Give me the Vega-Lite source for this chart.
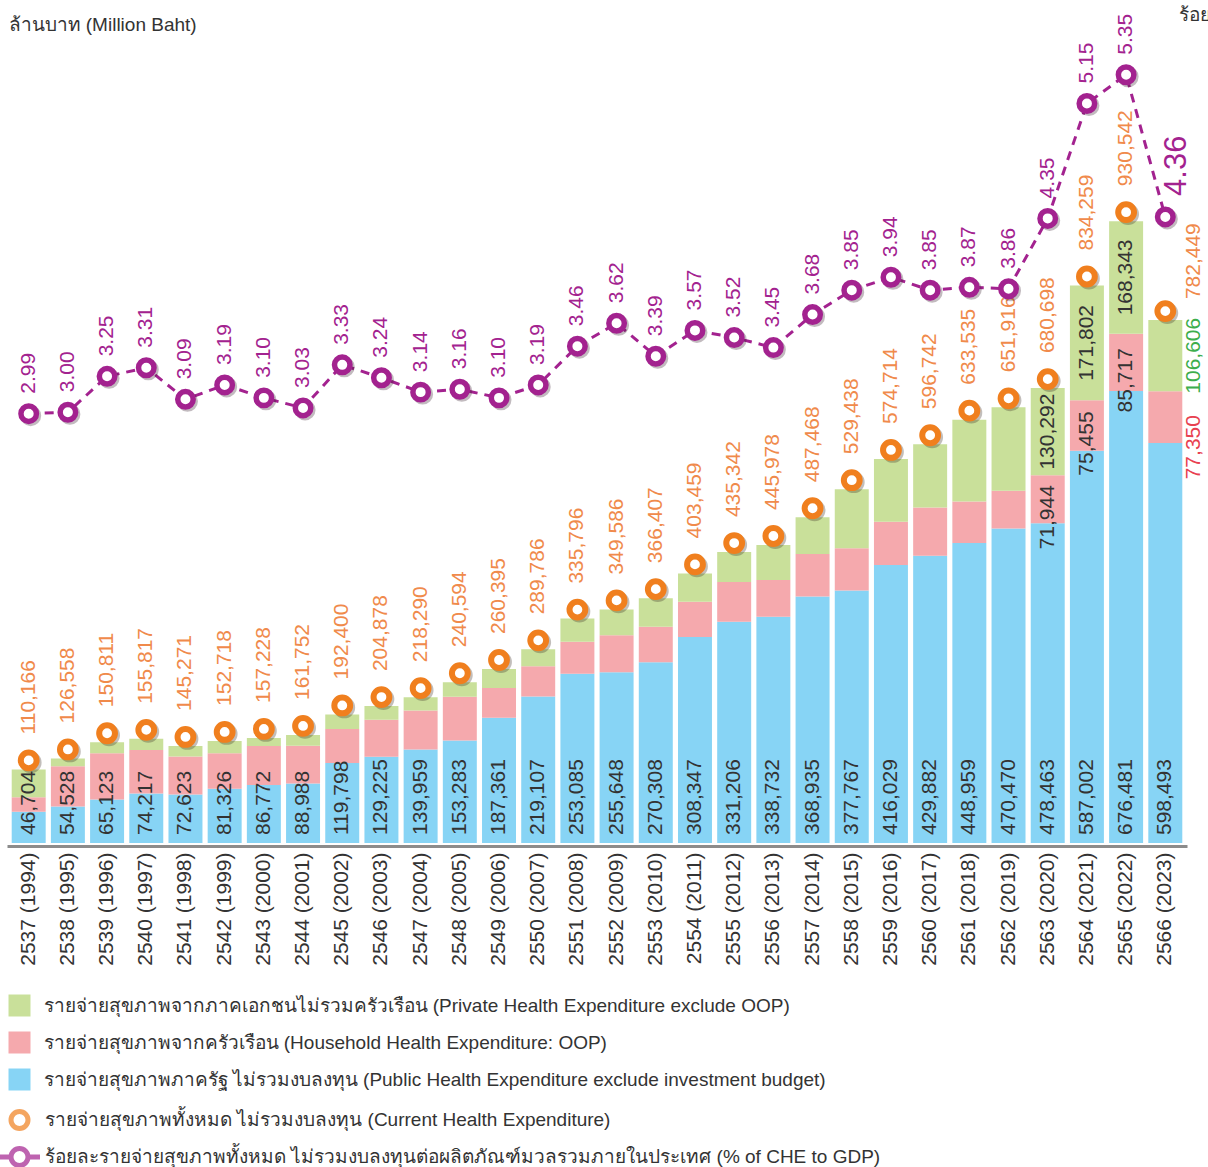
{
  "$schema": "https://vega.github.io/schema/vega-lite/v6.json",
  "autosize": {"type": "none"},
  "width": 1180,
  "height": 840,
  "padding": {"left": 7, "top": 3, "right": 21, "bottom": 324},
  "config": {
    "view": {"stroke": null},
    "font": "Liberation Sans",
    "text": {"font": "Liberation Sans"},
    "axis": {"labelFont": "Liberation Sans", "titleFont": "Liberation Sans"},
    "legend": {"labelFont": "Liberation Sans"}
  },
  "datasets": {
    "nha": [
      {"label": "2537 (1994)", "year": 1994, "a_public": 46704, "b_household": 21900, "c_private": 41562, "total": 110166, "pct": 2.99},
      {"label": "2538 (1995)", "year": 1995, "a_public": 54528, "b_household": 60400, "c_private": 11630, "total": 126558, "pct": 3.00},
      {"label": "2539 (1996)", "year": 1996, "a_public": 65123, "b_household": 69350, "c_private": 16338, "total": 150811, "pct": 3.25},
      {"label": "2540 (1997)", "year": 1997, "a_public": 74217, "b_household": 64885, "c_private": 16715, "total": 155817, "pct": 3.31},
      {"label": "2541 (1998)", "year": 1998, "a_public": 72623, "b_household": 56686, "c_private": 15962, "total": 145271, "pct": 3.09},
      {"label": "2542 (1999)", "year": 1999, "a_public": 81326, "b_household": 53115, "c_private": 18277, "total": 152718, "pct": 3.19},
      {"label": "2543 (2000)", "year": 2000, "a_public": 86772, "b_household": 58400, "c_private": 12056, "total": 157228, "pct": 3.10},
      {"label": "2544 (2001)", "year": 2001, "a_public": 88988, "b_household": 56544, "c_private": 16220, "total": 161752, "pct": 3.03},
      {"label": "2545 (2002)", "year": 2002, "a_public": 119798, "b_household": 50687, "c_private": 21915, "total": 192400, "pct": 3.33},
      {"label": "2546 (2003)", "year": 2003, "a_public": 129225, "b_household": 55285, "c_private": 20368, "total": 204878, "pct": 3.24},
      {"label": "2547 (2004)", "year": 2004, "a_public": 139959, "b_household": 58500, "c_private": 19831, "total": 218290, "pct": 3.14},
      {"label": "2548 (2005)", "year": 2005, "a_public": 153283, "b_household": 65518, "c_private": 21793, "total": 240594, "pct": 3.16},
      {"label": "2549 (2006)", "year": 2006, "a_public": 187361, "b_household": 44560, "c_private": 28474, "total": 260395, "pct": 3.10},
      {"label": "2550 (2007)", "year": 2007, "a_public": 219107, "b_household": 45380, "c_private": 25299, "total": 289786, "pct": 3.19},
      {"label": "2551 (2008)", "year": 2008, "a_public": 253085, "b_household": 47942, "c_private": 34769, "total": 335796, "pct": 3.46},
      {"label": "2552 (2009)", "year": 2009, "a_public": 255648, "b_household": 55354, "c_private": 38584, "total": 349586, "pct": 3.62},
      {"label": "2553 (2010)", "year": 2010, "a_public": 270308, "b_household": 53184, "c_private": 42915, "total": 366407, "pct": 3.39},
      {"label": "2554 (2011)", "year": 2011, "a_public": 308347, "b_household": 52638, "c_private": 42474, "total": 403459, "pct": 3.57},
      {"label": "2555 (2012)", "year": 2012, "a_public": 331206, "b_household": 59360, "c_private": 44776, "total": 435342, "pct": 3.52},
      {"label": "2556 (2013)", "year": 2013, "a_public": 338732, "b_household": 54666, "c_private": 52580, "total": 445978, "pct": 3.45},
      {"label": "2557 (2014)", "year": 2014, "a_public": 368935, "b_household": 63505, "c_private": 55028, "total": 487468, "pct": 3.68},
      {"label": "2558 (2015)", "year": 2015, "a_public": 377767, "b_household": 63319, "c_private": 88352, "total": 529438, "pct": 3.85},
      {"label": "2559 (2016)", "year": 2016, "a_public": 416029, "b_household": 64717, "c_private": 93968, "total": 574714, "pct": 3.94},
      {"label": "2560 (2017)", "year": 2017, "a_public": 429882, "b_household": 72155, "c_private": 94705, "total": 596742, "pct": 3.85},
      {"label": "2561 (2018)", "year": 2018, "a_public": 448959, "b_household": 62222, "c_private": 122354, "total": 633535, "pct": 3.87},
      {"label": "2562 (2019)", "year": 2019, "a_public": 470470, "b_household": 56673, "c_private": 124773, "total": 651916, "pct": 3.86},
      {"label": "2563 (2020)", "year": 2020, "a_public": 478463, "b_household": 71944, "c_private": 130292, "total": 680698, "pct": 4.35},
      {"label": "2564 (2021)", "year": 2021, "a_public": 587002, "b_household": 75455, "c_private": 171802, "total": 834259, "pct": 5.15},
      {"label": "2565 (2022)", "year": 2022, "a_public": 676481, "b_household": 85717, "c_private": 168343, "total": 930542, "pct": 5.35},
      {"label": "2566 (2023)", "year": 2023, "a_public": 598493, "b_household": 77350, "c_private": 106606, "total": 782449, "pct": 4.36}
    ]
  },
  "data": {"name": "nha"},
  "layer": [
    {
      "encoding": {
        "x": {
          "field": "label",
          "type": "nominal",
          "sort": null,
          "scale": {"paddingInner": 0.133, "paddingOuter": 0.12},
          "axis": {
            "orient": "bottom",
            "title": "ล้านบาท (Million Baht)",
            "titleX": 1, "titleY": -816, "titleAngle": 0, "titleAlign": "left", "titleBaseline": "alphabetic",
            "titleFontSize": 19, "titleFontWeight": "normal", "titleColor": "#333333",
            "labelAngle": 270,
            "labelFontSize": 21,
            "labelColor": "#333333",
            "labelPadding": 6,
            "ticks": false,
            "domainColor": "#8c8c8c",
            "domainWidth": 3,
            "offset": 3,
            "grid": false
          }
        }
      },
      "layer": [
        {
          "transform": [{"fold": ["a_public", "b_household", "c_private"], "as": ["component", "value"]}],
          "mark": {"type": "bar"},
          "encoding": {
            "y": {
              "field": "value", "type": "quantitative", "stack": "zero",
              "scale": {"domain": [0, 1257000], "nice": false},
              "axis": null
            },
            "fill": {
              "field": "component", "type": "nominal",
              "scale": {"domain": ["c_private", "b_household", "a_public"], "range": ["#C9E09A", "#F5A9AD", "#87D4F5"]},
              "legend": {
                "title": null, "orient": "none", "direction": "vertical", "legendX": 1.5, "legendY": 991.5,
                "symbolType": "square", "symbolSize": 484, "symbolStrokeWidth": 0,
                "labelFontSize": 19, "labelColor": "#333333", "labelLimit": 1200, "labelOffset": 13,
                "rowPadding": 15, "padding": 0,
                "labelExpr": "datum.value == 'c_private' ? 'รายจ่ายสุขภาพจากภาคเอกชนไม่รวมครัวเรือน (Private Health Expenditure exclude OOP)' : datum.value == 'b_household' ? 'รายจ่ายสุขภาพจากครัวเรือน (Household Health Expenditure: OOP)' : 'รายจ่ายสุขภาพภาครัฐ ไม่รวมงบลงทุน (Public Health Expenditure exclude investment budget)'"
              }
            },
            "order": {"field": "component", "sort": "ascending"}
          }
        },
        {
          "mark": {"type": "text", "angle": 270, "align": "left", "baseline": "middle", "yOffset": -8, "fontSize": 21, "color": "#333333"},
          "encoding": {
            "y": {"datum": 0, "type": "quantitative", "scale": {"domain": [0, 1257000], "nice": false}, "axis": null},
            "text": {"field": "a_public", "type": "quantitative", "format": ","}
          }
        },
        {
          "transform": [
            {"filter": "datum.year >= 2020 && datum.year <= 2022"},
            {"fold": ["a_public", "b_household", "c_private"], "as": ["component", "value"]}
          ],
          "mark": {"type": "text", "angle": 270, "align": "center", "baseline": "middle", "fontSize": 21, "color": "#333333"},
          "encoding": {
            "y": {"field": "value", "type": "quantitative", "stack": "zero", "bandPosition": 0.5, "scale": {"domain": [0, 1257000], "nice": false}, "axis": null},
            "order": {"field": "component", "sort": "ascending"},
            "text": {"condition": {"test": "datum.component == 'c_private'", "field": "value", "type": "quantitative", "format": ","}, "value": ""}
          }
        },
        {
          "transform": [
            {"filter": "datum.year >= 2020 && datum.year <= 2022"},
            {"fold": ["a_public", "b_household", "c_private"], "as": ["component", "value"]}
          ],
          "mark": {"type": "text", "angle": 270, "align": "center", "baseline": "middle", "fontSize": 21, "color": "#333333", "yOffset": 18},
          "encoding": {
            "y": {"field": "value", "type": "quantitative", "stack": "zero", "bandPosition": 0.5, "scale": {"domain": [0, 1257000], "nice": false}, "axis": null},
            "order": {"field": "component", "sort": "ascending"},
            "text": {"condition": {"test": "datum.component == 'b_household'", "field": "value", "type": "quantitative", "format": ","}, "value": ""}
          }
        },
        {
          "transform": [
            {"filter": "datum.year == 2023"},
            {"fold": ["a_public", "b_household", "c_private"], "as": ["component", "value"]}
          ],
          "mark": {"type": "text", "angle": 270, "align": "center", "baseline": "middle", "fontSize": 21, "xOffset": 29, "color": "#3DAE4C"},
          "encoding": {
            "y": {"field": "value", "type": "quantitative", "stack": "zero", "bandPosition": 0.5, "scale": {"domain": [0, 1257000], "nice": false}, "axis": null},
            "order": {"field": "component", "sort": "ascending"},
            "text": {"condition": {"test": "datum.component == 'c_private'", "field": "value", "type": "quantitative", "format": ","}, "value": ""}
          }
        },
        {
          "transform": [
            {"filter": "datum.year == 2023"},
            {"fold": ["a_public", "b_household", "c_private"], "as": ["component", "value"]}
          ],
          "mark": {"type": "text", "angle": 270, "align": "center", "baseline": "middle", "fontSize": 21, "xOffset": 29, "yOffset": 30, "color": "#E84150"},
          "encoding": {
            "y": {"field": "value", "type": "quantitative", "stack": "zero", "bandPosition": 0.5, "scale": {"domain": [0, 1257000], "nice": false}, "axis": null},
            "order": {"field": "component", "sort": "ascending"},
            "text": {"condition": {"test": "datum.component == 'b_household'", "field": "value", "type": "quantitative", "format": ","}, "value": ""}
          }
        },
        {
          "mark": {"type": "point", "shape": "circle", "size": 250, "filled": false, "stroke": "#3a2a20", "strokeWidth": 6, "opacity": 0.3, "xOffset": 2, "yOffset": -7},
          "encoding": {
            "y": {"field": "total", "type": "quantitative", "scale": {"domain": [0, 1257000], "nice": false}, "axis": null}
          }
        },
        {
          "mark": {"type": "point", "shape": "circle", "size": 250, "filled": true, "fill": "white", "stroke": "#F07F1E", "strokeWidth": 6, "opacity": 1, "yOffset": -9},
          "encoding": {
            "y": {"field": "total", "type": "quantitative", "scale": {"domain": [0, 1257000], "nice": false}, "axis": null}
          }
        },
        {
          "transform": [{"filter": "datum.year != 2023"}],
          "mark": {"type": "text", "angle": 270, "align": "left", "baseline": "middle", "yOffset": -35, "fontSize": 21, "color": "#F08A4B"},
          "encoding": {
            "y": {"field": "total", "type": "quantitative", "scale": {"domain": [0, 1257000], "nice": false}, "axis": null},
            "text": {"field": "total", "type": "quantitative", "format": ","}
          }
        },
        {
          "transform": [{"filter": "datum.year == 2023"}],
          "mark": {"type": "text", "angle": 270, "align": "left", "baseline": "middle", "xOffset": 29, "yOffset": -21, "fontSize": 21, "color": "#F08A4B"},
          "encoding": {
            "y": {"field": "total", "type": "quantitative", "scale": {"domain": [0, 1257000], "nice": false}, "axis": null},
            "text": {"field": "total", "type": "quantitative", "format": ","}
          }
        },
        {
          "transform": [{"filter": "datum.year < 0"}],
          "mark": {"type": "point", "filled": false, "strokeWidth": 5},
          "encoding": {
            "stroke": {
              "field": "series", "type": "nominal",
              "scale": {"domain": ["che", "gdp"], "range": ["#F07F1E", "#A3228F"]},
              "legend": {
                "title": null, "orient": "none", "direction": "vertical", "legendX": 0, "legendY": 1104.5,
                "symbolSize": 400, "symbolStrokeWidth": 5, "symbolFillColor": "white",
                "labelFontSize": 19, "labelColor": "#333333", "labelLimit": 1200, "labelOffset": 13,
                "rowPadding": 0, "padding": 0,
                "labelExpr": "datum.value == 'che' ? 'รายจ่ายสุขภาพทั้งหมด ไม่รวมงบลงทุน (Current Health Expenditure)' : 'ร้อยละรายจ่ายสุขภาพทั้งหมด ไม่รวมงบลงทุนต่อผลิตภัณฑ์มวลรวมภายในประเทศ (% of CHE to GDP)'"
              }
            },
            "shape": {
              "field": "series", "type": "nominal",
              "scale": {"domain": ["che", "gdp"], "range": ["M-0.85,0A0.85,0.85 0 1,0 0.85,0A0.85,0.85 0 1,0 -0.85,0Z", "M-2.05,0L-0.85,0M0.85,0L2.05,0M-0.85,0A0.85,0.85 0 1,0 0.85,0A0.85,0.85 0 1,0 -0.85,0Z"]},
              "legend": {
                "title": null, "orient": "none", "direction": "vertical", "legendX": 0, "legendY": 1104.5,
                "symbolSize": 400, "symbolStrokeWidth": 5, "symbolFillColor": "white",
                "labelFontSize": 19, "labelColor": "#333333", "labelLimit": 1200, "labelOffset": 13,
                "rowPadding": 0, "padding": 0,
                "labelExpr": "datum.value == 'che' ? 'รายจ่ายสุขภาพทั้งหมด ไม่รวมงบลงทุน (Current Health Expenditure)' : 'ร้อยละรายจ่ายสุขภาพทั้งหมด ไม่รวมงบลงทุนต่อผลิตภัณฑ์มวลรวมภายในประเทศ (% of CHE to GDP)'"
              }
            }
          }
        }
      ]
    },
    {
      "encoding": {
        "x": {
          "field": "label",
          "type": "nominal",
          "sort": null,
          "axis": {
            "orient": "top",
            "title": "ร้อยละ",
            "titleX": 1171, "titleY": 17, "titleAngle": 0, "titleAlign": "left", "titleBaseline": "alphabetic",
            "titleFontSize": 19, "titleFontWeight": "normal", "titleColor": "#333333",
            "labels": false, "ticks": false, "domain": false, "grid": false
          }
        }
      },
      "layer": [
        {
          "mark": {"type": "line", "color": "#A3228F", "strokeWidth": 3, "strokeDash": [9, 7]},
          "encoding": {
            "y": {"field": "pct", "type": "quantitative", "scale": {"domain": [0, 5.85], "nice": false}, "axis": null}
          }
        },
        {
          "mark": {"type": "point", "shape": "circle", "size": 240, "filled": false, "stroke": "#3a2030", "strokeWidth": 5.5, "opacity": 0.3, "xOffset": 2, "yOffset": 2},
          "encoding": {
            "y": {"field": "pct", "type": "quantitative", "scale": {"domain": [0, 5.85], "nice": false}, "axis": null}
          }
        },
        {
          "mark": {"type": "point", "shape": "circle", "size": 240, "filled": true, "fill": "white", "stroke": "#A3228F", "strokeWidth": 5.5, "opacity": 1},
          "encoding": {
            "y": {"field": "pct", "type": "quantitative", "scale": {"domain": [0, 5.85], "nice": false}, "axis": null}
          }
        },
        {
          "transform": [{"filter": "datum.year != 2023"}],
          "mark": {"type": "text", "angle": 270, "align": "left", "baseline": "middle", "yOffset": -20, "fontSize": 21, "color": "#A3228F"},
          "encoding": {
            "y": {"field": "pct", "type": "quantitative", "scale": {"domain": [0, 5.85], "nice": false}, "axis": null},
            "text": {"field": "pct", "type": "quantitative", "format": ".2f"}
          }
        },
        {
          "transform": [{"filter": "datum.year == 2023"}],
          "mark": {"type": "text", "angle": 270, "align": "left", "baseline": "middle", "xOffset": 12, "yOffset": -21, "fontSize": 31, "color": "#A3228F"},
          "encoding": {
            "y": {"field": "pct", "type": "quantitative", "scale": {"domain": [0, 5.85], "nice": false}, "axis": null},
            "text": {"field": "pct", "type": "quantitative", "format": ".2f"}
          }
        }
      ]
    }
  ],
  "resolve": {"scale": {"y": "independent"}, "axis": {"x": "independent"}}
}
